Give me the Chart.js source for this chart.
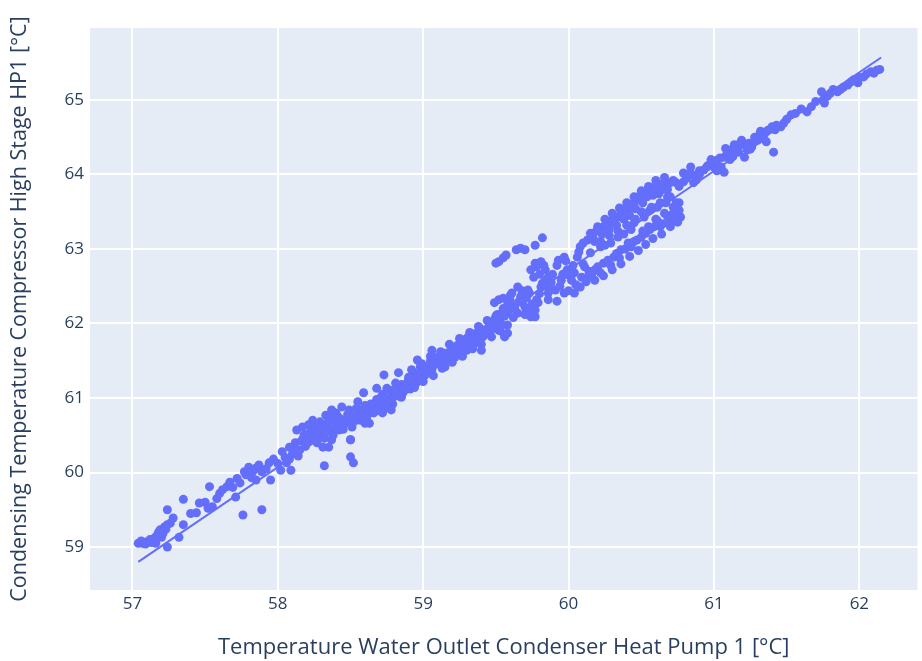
<!DOCTYPE html>
<html>
<head>
<meta charset="utf-8">
<script src="https://cdn.jsdelivr.net/npm/chart.js@4.4.1/dist/chart.umd.min.js"></script>
<style>
  body { margin: 0; background: #ffffff; }
</style>
</head>
<body>
<canvas id="hp_chart" width="922" height="661"></canvas>
<script>
// water outlet temperature (x) vs condensing temperature (y), one pair per sample
var outletTemp = [
  57.04, 57.07, 57.10, 57.14, 57.17, 57.19, 57.22, 57.24, 57.20, 57.24, 57.24, 57.28, 57.32, 57.35, 57.35,
  57.44, 57.46, 57.50, 57.53, 57.55, 57.52, 57.62, 57.65, 57.67, 57.71, 57.74, 57.76, 57.89, 57.77, 57.80,
  57.85, 57.89, 57.94, 57.95, 57.85, 57.82, 58.03, 58.08, 58.09, 58.02, 58.06, 58.13, 58.17, 58.21, 58.26,
  58.31, 58.32, 58.35, 58.40, 58.44, 58.50, 58.50, 58.54, 58.58, 58.63, 58.67, 58.72, 58.75, 58.52,
  58.17, 58.24, 58.33, 58.37, 58.44, 58.22, 58.28, 58.35, 58.37, 58.50, 58.42, 58.51, 58.60, 58.56, 58.63,
  58.55, 58.59, 58.67, 58.71, 58.75, 58.78, 58.73, 58.68, 58.81, 58.83, 58.86, 58.85, 58.90, 58.95, 58.96,
  58.98, 58.99, 59.04, 59.06, 59.08, 59.13, 59.15, 59.19, 59.22, 59.24, 59.29, 59.30, 59.33, 59.36, 59.40,
  59.38, 59.43, 59.46, 59.49, 59.52, 59.56, 59.54, 59.49, 59.61, 59.65, 59.74, 59.77, 59.79, 59.86,
  59.52, 59.55, 59.57, 59.64, 59.67, 59.70, 59.77, 59.82, 59.50,
  59.17, 59.31, 59.38, 59.45, 59.49, 59.54, 59.58, 59.56, 59.52, 59.55, 59.61, 59.65, 59.70, 59.72, 59.74,
  59.77, 59.78, 59.63, 59.67, 59.73, 59.74, 59.77, 59.81, 59.84, 59.86, 59.84, 59.81, 59.86, 59.93, 59.97,
  59.99, 59.95, 59.91, 59.97, 60.02, 60.04, 60.04, 60.08, 60.06, 60.08, 60.11, 60.13, 60.15, 60.20, 60.24,
  60.29, 60.34, 60.36, 60.40, 60.45, 60.49, 60.53, 60.56, 60.63, 60.70, 60.79, 60.88,
  60.15, 60.22, 60.29, 60.34, 60.43, 60.45, 60.52, 60.56, 60.61, 60.66,
  60.13, 60.18, 60.24, 60.31, 60.36, 60.43, 60.47, 60.53, 60.56, 60.63, 60.70, 60.74, 60.77, 60.72, 60.74, 60.67,
  60.54, 60.61, 60.68, 60.74, 60.76, 60.79, 60.84, 60.86, 60.88, 60.93, 60.98, 61.02, 61.07, 61.07, 61.12,
  61.14, 61.18, 61.21, 61.23, 61.26, 61.30, 61.33, 61.35, 61.37, 61.40, 61.41, 61.42, 61.46, 61.48, 61.53,
  61.64, 61.67, 61.74, 61.75, 61.76, 61.80, 61.85, 61.89, 61.94, 61.99, 62.00, 62.03, 62.08, 62.12, 62.10,
  58.05, 58.10, 58.12, 58.15, 58.18, 58.20, 58.23, 58.25, 58.28, 58.30, 58.33, 58.36, 58.38, 58.40, 58.43,
  58.46, 58.48, 58.52, 58.55, 58.58, 58.60, 58.62, 58.65, 58.68, 58.70, 58.72, 58.76, 58.78, 58.80, 58.82,
  58.85, 58.88, 58.90, 58.92, 58.94, 58.97, 59.00, 59.02, 59.05, 59.08, 59.10, 59.12, 59.15, 59.18, 59.20,
  59.22, 59.25, 59.27, 59.30, 59.33, 59.35, 59.38, 59.40, 59.42, 59.45, 59.48, 59.50, 59.52, 59.55, 59.58,
  59.60, 59.62, 59.68, 59.72, 59.80, 59.88, 59.92, 60.00, 60.10, 60.18, 60.25, 60.30, 60.38, 60.42, 60.50,
  60.58, 60.60, 60.65, 60.82, 60.90, 60.96, 61.00, 61.10, 61.16, 61.28,
  // lower-left cluster
  57.06, 57.09, 57.12, 57.15, 57.18, 57.21, 57.23, 57.26, 57.13, 57.16,
  57.40, 57.58, 57.60, 57.69, 57.72, 57.78, 57.83, 57.87, 57.92, 57.97, 58.00,
  // main band 58 - 59.6
  58.08, 58.11, 58.14, 58.16, 58.19, 58.21, 58.24, 58.26, 58.27, 58.29, 58.31, 58.32, 58.34, 58.36, 58.38, 58.39,
  58.41, 58.42, 58.45, 58.47, 58.49, 58.51, 58.53, 58.54, 58.57, 58.59, 58.61, 58.64, 58.66, 58.69, 58.71, 58.74,
  58.77, 58.79, 58.81, 58.84, 58.87, 58.89, 58.91, 58.93, 58.96, 58.98, 59.01, 59.03, 59.06, 59.09, 59.11, 59.14,
  59.16, 59.19, 59.21, 59.23, 59.26, 59.28, 59.31, 59.34, 59.37, 59.39, 59.41, 59.44, 59.47, 59.50, 59.53, 59.56,
  58.92, 58.99, 59.05, 59.12, 59.18, 59.25, 59.32, 59.38, 59.44, 59.51,
  58.94, 59.00, 59.07, 59.13, 59.20, 59.27, 59.34, 59.40, 59.47, 59.53, 59.58,
  // loops around 60
  59.58, 59.60, 59.62, 59.66, 59.68, 59.70, 59.71, 59.75, 59.76, 59.78, 59.80, 59.82, 59.83, 59.85, 59.88,
  59.89, 59.92, 59.94, 59.96, 59.98, 60.00, 60.01, 60.03, 60.05, 60.07, 60.09, 60.10, 60.12, 60.14, 60.17,
  // upper branch
  60.16, 60.19, 60.23, 60.26, 60.28, 60.31, 60.33, 60.36, 60.38, 60.41, 60.43, 60.46,
  60.48, 60.51, 60.54, 60.58, 60.60, 60.62, 60.65, 60.68, 60.72, 60.76, 60.81, 60.85,
  60.20, 60.25, 60.30, 60.35, 60.40, 60.45, 60.50, 60.55, 60.60, 60.66,
  60.22, 60.28, 60.34, 60.40, 60.46, 60.52, 60.57, 60.63, 60.70,
  // lower branch
  60.16, 60.20, 60.22, 60.27, 60.29, 60.33, 60.35, 60.39, 60.41, 60.45,
  60.50, 60.51, 60.55, 60.59, 60.61, 60.65, 60.68, 60.71, 60.73, 60.76,
  60.18, 60.24, 60.30, 60.36, 60.42, 60.48, 60.53, 60.58, 60.64, 60.70, 60.75,
  // upper end
  60.90, 60.95, 61.00, 61.04, 61.05, 61.09, 61.11, 61.15, 61.17, 61.20,
  61.24, 61.28, 61.31, 61.34, 61.38, 61.43, 61.50, 61.56, 61.60,
  60.98, 61.02, 61.08, 61.13, 61.19, 61.25, 61.32, 61.36,
  61.70, 61.78, 61.82, 61.87, 61.92, 61.96, 62.05, 62.14
];
var condTemp = [
  59.05, 59.05, 59.07, 59.09, 59.16, 59.23, 59.27, 59.30, 59.13, 59.00, 59.50, 59.39, 59.13, 59.30, 59.64,
  59.46, 59.59, 59.60, 59.81, 59.54, 59.52, 59.77, 59.81, 59.87, 59.67, 59.86, 59.43, 59.50, 60.01, 60.07,
  60.06, 60.01, 60.13, 59.90, 59.90, 59.93, 60.28, 60.34, 60.03, 60.03, 60.13, 60.57, 60.44, 60.64, 60.53,
  60.34, 60.09, 60.70, 60.80, 60.61, 60.44, 60.21, 60.70, 60.84, 60.66, 60.88, 60.80, 60.93, 60.13,
  60.61, 60.70, 60.77, 60.84, 60.88, 60.44, 60.53, 60.34, 60.44, 60.44, 60.57, 60.61, 60.66, 60.74, 60.84,
  60.95, 61.07, 60.93, 61.01, 61.13, 60.84, 61.31, 61.13, 61.20, 61.34, 61.07, 61.01, 61.28, 61.20, 61.51,
  61.42, 61.28, 61.42, 61.64, 61.47, 61.60, 61.42, 61.64, 61.55, 61.68, 61.78, 61.64, 61.82, 61.74, 61.64,
  61.89, 61.87, 62.01, 62.05, 61.91, 61.82, 62.14, 62.28, 62.22, 62.14, 62.18, 62.09, 62.28, 62.32,
  62.83, 62.88, 62.92, 62.99, 63.01, 62.99, 63.05, 63.15, 62.81,
  61.60, 61.82, 61.84, 61.90, 61.96, 61.98, 61.87, 61.84, 62.32, 62.34, 62.41, 62.49, 62.22, 62.14, 62.09,
  62.18, 62.32, 62.22, 62.36, 62.41, 62.72, 62.81, 62.83, 62.72, 62.62, 62.58, 62.49, 62.41, 62.85, 62.89,
  62.72, 62.58, 62.45, 62.41, 62.58, 62.68, 62.41, 62.49, 62.89, 63.03, 62.76, 63.12, 63.21, 63.26, 63.30,
  63.35, 63.43, 63.52, 63.56, 63.62, 63.66, 63.75, 63.79, 63.83, 63.89, 63.90, 63.93,
  62.95, 63.03, 63.08, 63.16, 63.26, 63.35, 63.43, 63.52, 63.56, 63.48,
  62.62, 62.72, 62.81, 62.89, 62.99, 63.03, 63.12, 63.21, 63.26, 63.30, 63.39, 63.48, 63.43, 63.56, 63.62, 63.62,
  63.79, 63.83, 63.70, 63.89, 63.62, 64.02, 64.10, 63.89, 63.97, 64.06, 64.15, 64.19, 64.03, 64.23, 64.33,
  64.40, 64.42, 64.23, 64.33, 64.37, 64.46, 64.50, 64.55, 64.59, 64.64, 64.30, 64.60, 64.64, 64.69, 64.80,
  64.84, 64.91, 65.11, 65.00, 64.96, 65.09, 65.11, 65.17, 65.24, 65.23, 65.30, 65.31, 65.38, 65.40, 65.36,
  60.20, 60.25, 60.40, 60.30, 60.50, 60.40, 60.55, 60.45, 60.62, 60.50, 60.60, 60.55, 60.70, 60.62, 60.72,
  60.66, 60.78, 60.72, 60.80, 60.75, 60.90, 60.78, 60.82, 60.98, 60.88, 61.05, 60.95, 61.10, 61.02, 61.12,
  61.18, 61.15, 61.25, 61.18, 61.33, 61.30, 61.38, 61.33, 61.50, 61.45, 61.55, 61.50, 61.60, 61.55, 61.68,
  61.62, 61.72, 61.68, 61.80, 61.75, 61.86, 61.80, 61.92, 61.85, 61.95, 61.98, 62.10, 62.00, 62.20, 62.15,
  62.30, 62.08, 62.28, 62.45, 62.40, 62.55, 62.30, 62.65, 62.80, 63.10, 63.05, 63.40, 63.20, 63.45, 63.50,
  63.72, 63.40, 63.80, 64.00, 64.05, 64.12, 64.10, 64.28, 64.36, 64.50,
  // lower-left cluster
  59.08, 59.04, 59.10, 59.12, 59.20, 59.18, 59.24, 59.32, 59.06, 59.05,
  59.45, 59.65, 59.72, 59.80, 59.92, 59.97, 60.02, 60.10, 60.05, 60.18, 60.12,
  // main band 58 - 59.6
  60.18, 60.32, 60.22, 60.42, 60.35, 60.52, 60.48, 60.60, 60.40, 60.68, 60.58, 60.46, 60.66, 60.74, 60.50, 60.60,
  60.76, 60.66, 60.58, 60.70, 60.84, 60.64, 60.76, 60.86, 60.70, 60.82, 60.72, 60.92, 60.80, 60.84, 60.95, 60.86,
  61.00, 60.92, 61.08, 61.02, 61.10, 61.20, 61.12, 61.26, 61.22, 61.36, 61.30, 61.42, 61.38, 61.52, 61.46, 61.56,
  61.52, 61.60, 61.58, 61.70, 61.64, 61.74, 61.70, 61.80, 61.78, 61.86, 61.82, 61.90, 61.92, 62.00, 62.05, 62.10,
  61.38, 61.46, 61.56, 61.62, 61.72, 61.80, 61.88, 61.96, 62.04, 62.12,
  61.14, 61.22, 61.30, 61.40, 61.48, 61.56, 61.66, 61.72, 61.82, 61.90, 61.98,
  // loops around 60
  62.25, 62.38, 62.20, 62.30, 62.44, 62.12, 62.34, 62.26, 62.62, 62.76, 62.66, 62.54, 62.78, 62.50, 62.46,
  62.66, 62.78, 62.50, 62.66, 62.84, 62.44, 62.66, 62.78, 62.52, 62.96, 62.62, 63.08, 62.56, 62.70, 63.14,
  // upper branch
  63.16, 63.24, 63.20, 63.34, 63.26, 63.40, 63.32, 63.46, 63.40, 63.50, 63.60, 63.54,
  63.70, 63.62, 63.70, 63.76, 63.86, 63.74, 63.88, 63.80, 63.92, 63.84, 63.95, 64.00,
  63.30, 63.40, 63.48, 63.55, 63.62, 63.70, 63.78, 63.84, 63.92, 63.96,
  63.10, 63.18, 63.24, 63.32, 63.40, 63.48, 63.56, 63.62, 63.70,
  // lower branch
  62.66, 62.76, 62.68, 62.85, 62.78, 62.94, 62.88, 63.00, 63.08, 63.10,
  63.16, 63.24, 63.30, 63.30, 63.38, 63.34, 63.44, 63.46, 63.38, 63.52,
  62.58, 62.64, 62.72, 62.80, 62.90, 62.98, 63.06, 63.14, 63.20, 63.30, 63.36,
  // upper end
  64.00, 64.10, 64.12, 64.22, 64.10, 64.28, 64.20, 64.36, 64.30, 64.40,
  64.42, 64.44, 64.52, 64.48, 64.60, 64.66, 64.74, 64.82, 64.88,
  64.20, 64.05, 64.35, 64.24, 64.46, 64.34, 64.58, 64.44,
  64.98, 65.05, 65.14, 65.14, 65.20, 65.27, 65.35, 65.41
];

// fitted trend line end points
var trendX = [57.04, 62.15];
var trendY = [58.80, 65.57];

var xTicks = [57, 58, 59, 60, 61, 62];
var yTicks = [59, 60, 61, 62, 63, 64, 65];

var points = outletTemp.map(function(v, i) { return { x: v, y: condTemp[i] }; });
var trend = trendX.map(function(v, i) { return { x: v, y: trendY[i] }; });

var markerColor = '#636efa';
var fontColor = '#2a3f5f';

// fills the plotting area with the light blue-grey background
var plotBackground = {
    id: 'plotBackground',
    beforeDraw: function(chart) {
        var a = chart.chartArea;
        var ctx = chart.ctx;
        ctx.save();
        ctx.fillStyle = '#e5ecf6';
        ctx.fillRect(a.left, a.top, a.right - a.left, a.bottom - a.top);
        ctx.restore();
    }
};

var ctxHp = document.getElementById("hp_chart").getContext("2d");
var hp_chart = new Chart(ctxHp, {
    type: 'scatter',
    data: {
        datasets: [{
            label: 'samples',
            data: points,
            backgroundColor: markerColor,
            borderWidth: 0,
            pointRadius: 4.5,
            pointHoverRadius: 4.5
        }, {
            type: 'line',
            label: 'trend',
            data: trend,
            borderColor: markerColor,
            borderWidth: 2,
            pointRadius: 0,
            fill: false
        }]
    },
    options: {
        responsive: false,
        animation: false,
        layout: { padding: { top: 28, right: 2, left: 0, bottom: 0 } },
        plugins: {
            legend: { display: false },
            tooltip: { enabled: false }
        },
        scales: {
            x: {
                type: 'linear',
                min: 56.708,
                max: 62.40,
                afterFit: function(scale) { scale.height = 71; },
                afterBuildTicks: function(scale) {
                    scale.ticks = xTicks.map(function(v) { return { value: v }; });
                },
                grid: { color: '#ffffff', lineWidth: 2, drawTicks: false },
                border: { display: false },
                ticks: {
                    padding: 4,
                    color: fontColor,
                    font: { family: 'Open Sans', size: 17 },
                    callback: function(v) { return String(v); }
                },
                title: {
                    display: true,
                    text: 'Temperature Water Outlet Condenser Heat Pump 1 [°C]',
                    color: fontColor,
                    font: { family: 'Open Sans', size: 22 },
                    padding: { top: 0, bottom: 0 }
                }
            },
            y: {
                type: 'linear',
                min: 58.423,
                max: 65.966,
                afterFit: function(scale) { scale.width = 90; },
                afterBuildTicks: function(scale) {
                    scale.ticks = yTicks.map(function(v) { return { value: v }; });
                },
                grid: { color: '#ffffff', lineWidth: 2, drawTicks: false },
                border: { display: false },
                ticks: {
                    padding: 6,
                    color: fontColor,
                    font: { family: 'Open Sans', size: 17 },
                    callback: function(v) { return String(v); }
                },
                title: {
                    display: true,
                    text: 'Condensing Temperature Compressor High Stage HP1 [°C]',
                    color: fontColor,
                    font: { family: 'Open Sans', size: 21.5 },
                    padding: { top: 7, bottom: 0 }
                }
            }
        }
    },
    plugins: [plotBackground]
});
</script>
</body>
</html>
